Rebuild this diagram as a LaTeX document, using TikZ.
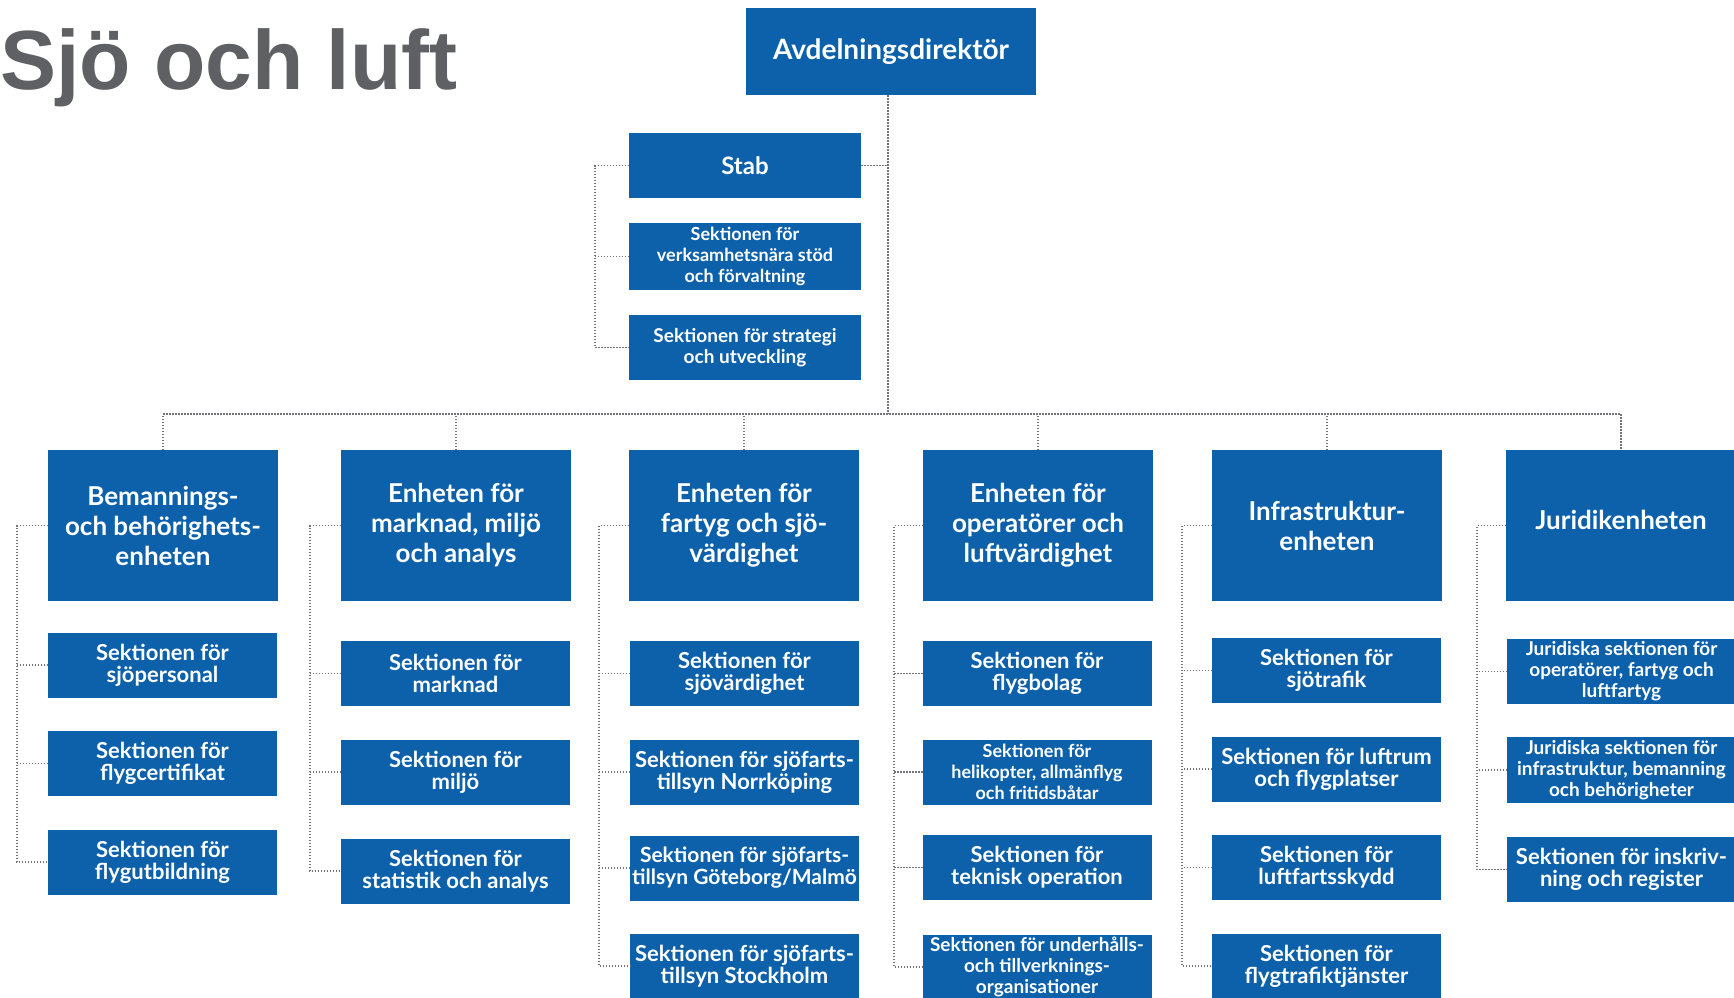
\documentclass[tikz,border=0pt]{standalone}
\usepackage{fontspec}
\setmainfont{Lato}
\newfontfamily\titlefont{Liberation Sans}
\definecolor{boxblue}{RGB}{12,97,170}
\definecolor{titlegray}{RGB}{95,96,99}
\definecolor{linegray}{RGB}{115,115,120}
\newcommand\xfstd{\fontsize{22pt}{22pt}\selectfont}
\newcommand\xfsmall{\fontsize{19pt}{21pt}\selectfont}
\newcommand\xfsmaller{\fontsize{18pt}{21pt}\selectfont}
\newcommand\xfunit{\fontsize{26pt}{30pt}\selectfont}
\tikzset{
  box/.style={fill=boxblue, draw=none, text=white, align=center, inner sep=0pt, outer sep=0pt,
              minimum width=229pt, minimum height=65pt, font=\bfseries\xfstd},
  smallbox/.style={box, font=\bfseries\xfsmall},
  smallerbox/.style={box, font=\bfseries\xfsmaller},
  unitbox/.style={box, minimum width=230pt, minimum height=151pt, font=\bfseries\xfunit},
  stabbox/.style={box, minimum width=232pt},
  topbox/.style={box, minimum width=290pt, minimum height=87pt, font=\bfseries\fontsize{28pt}{30pt}\selectfont},
  conn/.style={draw=linegray, line width=1.7pt, dash pattern=on 1.5pt off 1.5pt},
}
\begin{document}
\begin{tikzpicture}[x=1pt,y=-1pt]
\useasboundingbox (0,0) rectangle (1734,998);
\fill[white] (0,0) rectangle (1734,998);
\clip (0,0) rectangle (1734,998);

% title
\node[anchor=base west, inner sep=0pt, text=titlegray, font=\titlefont\bfseries\fontsize{84pt}{88pt}\selectfont] (title) at (0,89) {Sjö och luft};

% top
\node[topbox] (dir) at (891,51.5) {Avdelningsdirektör};

% staff
\node[stabbox, font=\bfseries\fontsize{24pt}{26pt}\selectfont] (stab) at (745,165.5) {Stab};
\node[stabbox, minimum height=67pt, font=\bfseries\xfsmaller] (verk) at (745,256.5) {Sektionen för\\verksamhetsnära stöd\\och förvaltning};
\node[stabbox, font=\bfseries\xfsmall] (strat) at (745,347.5) {Sektionen för strategi\\och utveckling};

% units
\node[unitbox] (u1) at (163,525.5) {Bemannings-\\och behörighets-\\enheten};
\node[unitbox] (u2) at (456,525.5) {Enheten för\\marknad, miljö\\och analys};
\node[unitbox] (u3) at (744,525.5) {Enheten för\\fartyg och sjö-\\värdighet};
\node[unitbox] (u4) at (1038,525.5) {Enheten för\\operatörer och\\luftvärdighet};
\node[unitbox] (u5) at (1327,525.5) {Infrastruktur-\\enheten};
\node[unitbox] (u6) at (1621,525.5) {\raisebox{6pt}[\height][\depth]{Juridikenheten}};

% column 1
\node[box] (s11) at (162.5,665) {Sektionen för\\sjöpersonal};
\node[box] (s12) at (162.5,763.5) {Sektionen för\\flygcertifikat};
\node[box] (s13) at (162.5,862) {Sektionen för\\flygutbildning};
% column 2
\node[box] (s21) at (455.5,673.5) {Sektionen för\\marknad};
\node[box] (s22) at (455.5,772) {Sektionen för\\miljö};
\node[box] (s23) at (455.5,871) {Sektionen för\\statistik och analys};
% column 3
\node[box] (s31) at (744.5,673.5) {Sektionen för\\sjövärdighet};
\node[box] (s32) at (744.5,772) {Sektionen för sjöfarts-\\tillsyn Norrköping};
\node[box, font=\bfseries\fontsize{21pt}{22pt}\selectfont] (s33) at (744.5,868) {Sektionen för sjöfarts-\\tillsyn Göteborg/Malmö};
\node[box] (s34) at (744.5,966) {Sektionen för sjöfarts-\\tillsyn Stockholm};
% column 4
\node[box] (s41) at (1037,673.5) {Sektionen för\\flygbolag};
\node[smallerbox] (s42) at (1037,772) {Sektionen för\\helikopter, allmänflyg\\och fritidsbåtar};
\node[box] (s43) at (1037,867.5) {Sektionen för\\teknisk operation};
\node[smallbox] (s44) at (1037,967) {Sektionen för underhålls-\\och tillverknings-\\organisationer};
% column 5
\node[box] (s51) at (1326.5,670.5) {Sektionen för\\sjötrafik};
\node[box] (s52) at (1326.5,769) {Sektionen för luftrum\\och flygplatser};
\node[box] (s53) at (1326.5,867.5) {Sektionen för\\luftfartsskydd};
\node[box] (s54) at (1326.5,966) {Sektionen för\\flygtrafiktjänster};
% column 6
\node[smallbox] (s61) at (1621.5,671.5) {Juridiska sektionen för\\operatörer, fartyg och\\luftfartyg};
\node[smallbox, minimum height=66pt] (s62) at (1621.5,770) {Juridiska sektionen för\\infrastruktur, bemanning\\och behörigheter};
\node[box] (s63) at (1621.5,869.5) {Sektionen för inskriv-\\ning och register};

% helper coordinates
\coordinate (mx) at (888,0);
\coordinate (sx) at (595,0);
\coordinate (bus) at (0,414);
\coordinate (c1) at (17,0);
\coordinate (c2) at (310,0);
\coordinate (c3) at (599,0);
\coordinate (c4) at (894,0);
\coordinate (c5) at (1182,0);
\coordinate (c6) at (1477,0);

% staff connectors
\draw[conn] (stab.west) -- (stab.west -| sx) -- (strat.west -| sx) -- (strat.west);
\draw[conn] (verk.west) -- (verk.west -| sx);
\draw[conn] (stab.east) -- (stab.east -| mx);
\draw[conn] (dir.south -| mx) -- (mx |- bus);

% bus
\draw[conn] (u1.north) -- (u1.north |- bus) -- (u6.north |- bus) -- (u6.north);
\foreach \u in {u2,u3,u4,u5} \draw[conn] (\u.north) -- (\u.north |- bus);

% column connectors
\draw[conn] (u1.west) -- (u1.west -| c1) -- (s13.west -| c1) -- (s13.west);
\foreach \s in {s11,s12} \draw[conn] (\s.west) -- (\s.west -| c1);
\draw[conn] (u2.west) -- (u2.west -| c2) -- (s23.west -| c2) -- (s23.west);
\foreach \s in {s21,s22} \draw[conn] (\s.west) -- (\s.west -| c2);
\draw[conn] (u3.west) -- (u3.west -| c3) -- (s34.west -| c3) -- (s34.west);
\foreach \s in {s31,s32,s33} \draw[conn] (\s.west) -- (\s.west -| c3);
\draw[conn] (u4.west) -- (u4.west -| c4) -- (s44.west -| c4) -- (s44.west);
\foreach \s in {s41,s42,s43} \draw[conn] (\s.west) -- (\s.west -| c4);
\draw[conn] (u5.west) -- (u5.west -| c5) -- (s54.west -| c5) -- (s54.west);
\foreach \s in {s51,s52,s53} \draw[conn] (\s.west) -- (\s.west -| c5);
\draw[conn] (u6.west) -- (u6.west -| c6) -- (s63.west -| c6) -- (s63.west);
\foreach \s in {s61,s62} \draw[conn] (\s.west) -- (\s.west -| c6);
\end{tikzpicture}
\end{document}
